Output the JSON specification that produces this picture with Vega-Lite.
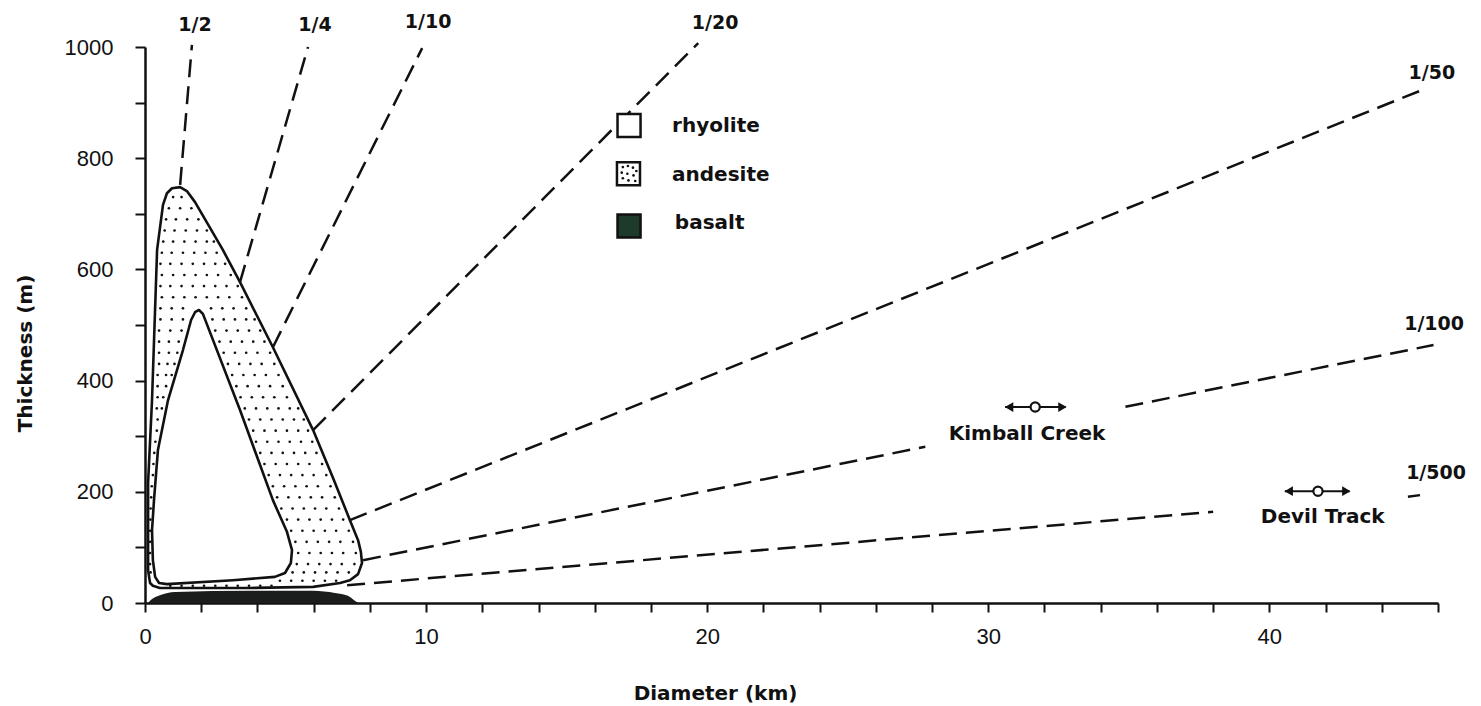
{
  "$schema": "https://vega.github.io/schema/vega-lite/v6.json",
  "width": 1293,
  "height": 556,
  "autosize": {"type": "none"},
  "padding": {"left": 145, "top": 47, "right": 43, "bottom": 103},
  "background": "white",
  "config": {"view": {"stroke": null}},
  "datasets": {
    "andesite": [
      {"i":1,"x":0.28,"y":31},{"i":2,"x":0.18,"y":36},{"i":3,"x":0.11,"y":59},{"i":4,"x":0.11,"y":216},
      {"i":5,"x":0.25,"y":365},{"i":6,"x":0.43,"y":635},{"i":7,"x":0.64,"y":716},{"i":8,"x":0.78,"y":737},
      {"i":9,"x":0.96,"y":746},{"i":10,"x":1.25,"y":748},{"i":11,"x":1.49,"y":741},{"i":12,"x":1.78,"y":721},
      {"i":13,"x":2.77,"y":635},{"i":14,"x":3.38,"y":577},{"i":15,"x":4.55,"y":460},{"i":16,"x":5.98,"y":311},
      {"i":17,"x":6.69,"y":225},{"i":18,"x":7.29,"y":149},{"i":19,"x":7.58,"y":113},{"i":20,"x":7.68,"y":92},
      {"i":21,"x":7.72,"y":72},{"i":22,"x":7.58,"y":52},{"i":23,"x":7.29,"y":41},{"i":24,"x":6.94,"y":36},
      {"i":25,"x":5.98,"y":29},{"i":26,"x":3.74,"y":27},{"i":27,"x":1.25,"y":27},{"i":28,"x":0.53,"y":27}
    ],
    "rhyolite": [
      {"i":1,"x":0.36,"y":47},{"i":2,"x":0.28,"y":77},{"i":3,"x":0.25,"y":131},{"i":4,"x":0.32,"y":185},
      {"i":5,"x":0.46,"y":275},{"i":6,"x":0.82,"y":365},{"i":7,"x":1.35,"y":455},{"i":8,"x":1.64,"y":509},
      {"i":9,"x":1.78,"y":523},{"i":10,"x":1.92,"y":527},{"i":11,"x":2.06,"y":520},{"i":12,"x":3.38,"y":347},
      {"i":13,"x":4.55,"y":185},{"i":14,"x":5.05,"y":128},{"i":15,"x":5.23,"y":95},{"i":16,"x":5.19,"y":72},
      {"i":17,"x":4.98,"y":54},{"i":18,"x":4.62,"y":47},{"i":19,"x":3.13,"y":41},{"i":20,"x":0.78,"y":34},
      {"i":21,"x":0.5,"y":36}
    ],
    "basalt": [
      {"x":0.11,"y":0},{"x":0.25,"y":7},{"x":0.53,"y":14},{"x":1.07,"y":20},{"x":3.74,"y":22},
      {"x":5.98,"y":22},{"x":6.76,"y":18},{"x":7.22,"y":13},{"x":7.44,"y":5},{"x":7.6,"y":0}
    ],
    "dots": [
      {"x":1.0,"y":730},{"x":1.3,"y":730},
      {"x":0.85,"y":710},{"x":1.25,"y":710},{"x":1.65,"y":710},
      {"x":0.75,"y":690},{"x":1.1,"y":690},{"x":1.5,"y":690},{"x":1.9,"y":690},
      {"x":0.7,"y":670},{"x":1.05,"y":670},{"x":1.45,"y":670},{"x":1.85,"y":670},{"x":2.2,"y":670},
      {"x":0.65,"y":650},{"x":1.0,"y":650},{"x":1.4,"y":650},{"x":1.8,"y":650},{"x":2.2,"y":650},{"x":2.45,"y":650},
      {"x":0.6,"y":630},{"x":0.95,"y":630},{"x":1.35,"y":630},{"x":1.75,"y":630},{"x":2.15,"y":630},{"x":2.55,"y":630},
      {"x":0.55,"y":610},{"x":0.9,"y":610},{"x":1.3,"y":610},{"x":1.7,"y":610},{"x":2.1,"y":610},{"x":2.5,"y":610},{"x":2.85,"y":610},
      {"x":0.6,"y":590},{"x":1.0,"y":590},{"x":1.4,"y":590},{"x":1.8,"y":590},{"x":2.2,"y":590},{"x":2.6,"y":590},{"x":3.05,"y":590},
      {"x":0.55,"y":570},{"x":0.9,"y":570},{"x":1.3,"y":570},{"x":1.7,"y":570},{"x":2.1,"y":570},{"x":2.5,"y":570},{"x":2.9,"y":570},{"x":3.3,"y":570},
      {"x":0.6,"y":550},{"x":1.0,"y":550},{"x":1.4,"y":550},{"x":1.8,"y":550},{"x":2.2,"y":550},{"x":2.6,"y":550},{"x":3.0,"y":550},{"x":3.45,"y":550},
      {"x":0.55,"y":530},{"x":0.95,"y":530},{"x":1.35,"y":530},{"x":2.35,"y":530},{"x":2.75,"y":530},{"x":3.15,"y":530},{"x":3.6,"y":530},
      {"x":0.55,"y":510},{"x":0.95,"y":510},{"x":1.35,"y":510},{"x":2.4,"y":510},{"x":2.8,"y":510},{"x":3.2,"y":510},{"x":3.6,"y":510},{"x":3.9,"y":510},
      {"x":0.5,"y":490},{"x":0.9,"y":490},{"x":1.3,"y":490},{"x":2.5,"y":490},{"x":2.9,"y":490},{"x":3.3,"y":490},{"x":3.7,"y":490},{"x":4.1,"y":490},
      {"x":0.5,"y":470},{"x":0.85,"y":470},{"x":1.2,"y":470},{"x":2.65,"y":470},{"x":3.05,"y":470},{"x":3.45,"y":470},{"x":3.85,"y":470},{"x":4.25,"y":470},
      {"x":0.5,"y":450},{"x":0.85,"y":450},{"x":1.15,"y":450},{"x":2.8,"y":450},{"x":3.2,"y":450},{"x":3.6,"y":450},{"x":4.0,"y":450},{"x":4.45,"y":450},
      {"x":0.5,"y":430},{"x":0.8,"y":430},{"x":1.05,"y":430},{"x":2.95,"y":430},{"x":3.35,"y":430},{"x":3.75,"y":430},{"x":4.15,"y":430},{"x":4.6,"y":430},
      {"x":0.45,"y":410},{"x":0.75,"y":410},{"x":0.95,"y":410},{"x":3.1,"y":410},{"x":3.5,"y":410},{"x":3.9,"y":410},{"x":4.3,"y":410},{"x":4.75,"y":410},
      {"x":0.45,"y":390},{"x":0.75,"y":390},{"x":3.25,"y":390},{"x":3.65,"y":390},{"x":4.05,"y":390},{"x":4.45,"y":390},{"x":4.9,"y":390},
      {"x":0.45,"y":370},{"x":0.65,"y":370},{"x":3.4,"y":370},{"x":3.8,"y":370},{"x":4.2,"y":370},{"x":4.6,"y":370},{"x":5.05,"y":370},
      {"x":0.42,"y":350},{"x":0.6,"y":350},{"x":3.55,"y":350},{"x":3.95,"y":350},{"x":4.35,"y":350},{"x":4.75,"y":350},{"x":5.15,"y":350},{"x":5.45,"y":350},
      {"x":0.45,"y":330},{"x":3.7,"y":330},{"x":4.1,"y":330},{"x":4.5,"y":330},{"x":4.9,"y":330},{"x":5.3,"y":330},{"x":5.65,"y":330},
      {"x":0.42,"y":310},{"x":3.85,"y":310},{"x":4.25,"y":310},{"x":4.65,"y":310},{"x":5.05,"y":310},{"x":5.45,"y":310},{"x":5.8,"y":310},
      {"x":0.37,"y":290},{"x":3.95,"y":290},{"x":4.35,"y":290},{"x":4.75,"y":290},{"x":5.15,"y":290},{"x":5.55,"y":290},{"x":5.95,"y":290},
      {"x":0.33,"y":270},{"x":4.1,"y":270},{"x":4.5,"y":270},{"x":4.9,"y":270},{"x":5.3,"y":270},{"x":5.7,"y":270},{"x":6.1,"y":270},
      {"x":0.3,"y":250},{"x":4.25,"y":250},{"x":4.65,"y":250},{"x":5.05,"y":250},{"x":5.45,"y":250},{"x":5.85,"y":250},{"x":6.3,"y":250},
      {"x":0.28,"y":230},{"x":4.4,"y":230},{"x":4.8,"y":230},{"x":5.2,"y":230},{"x":5.6,"y":230},{"x":6.0,"y":230},{"x":6.45,"y":230},
      {"x":0.24,"y":210},{"x":4.55,"y":210},{"x":4.95,"y":210},{"x":5.35,"y":210},{"x":5.75,"y":210},{"x":6.15,"y":210},{"x":6.6,"y":210},
      {"x":0.22,"y":190},{"x":4.7,"y":190},{"x":5.1,"y":190},{"x":5.5,"y":190},{"x":5.9,"y":190},{"x":6.3,"y":190},{"x":6.75,"y":190},
      {"x":0.2,"y":170},{"x":4.85,"y":170},{"x":5.25,"y":170},{"x":5.65,"y":170},{"x":6.05,"y":170},{"x":6.45,"y":170},{"x":6.9,"y":170},
      {"x":0.19,"y":150},{"x":5.05,"y":150},{"x":5.45,"y":150},{"x":5.85,"y":150},{"x":6.25,"y":150},{"x":6.65,"y":150},{"x":7.05,"y":150},
      {"x":0.18,"y":130},{"x":5.2,"y":130},{"x":5.6,"y":130},{"x":6.0,"y":130},{"x":6.4,"y":130},{"x":6.8,"y":130},{"x":7.25,"y":130},
      {"x":0.18,"y":110},{"x":5.35,"y":110},{"x":5.75,"y":110},{"x":6.15,"y":110},{"x":6.55,"y":110},{"x":6.95,"y":110},{"x":7.4,"y":110},
      {"x":0.18,"y":90},{"x":5.45,"y":90},{"x":5.85,"y":90},{"x":6.25,"y":90},{"x":6.65,"y":90},{"x":7.05,"y":90},{"x":7.5,"y":90},
      {"x":0.18,"y":70},{"x":5.4,"y":70},{"x":5.8,"y":70},{"x":6.2,"y":70},{"x":6.6,"y":70},{"x":7.0,"y":70},{"x":7.45,"y":70},
      {"x":0.2,"y":55},{"x":5.25,"y":55},{"x":5.65,"y":55},{"x":6.05,"y":55},{"x":6.45,"y":55},{"x":6.85,"y":55},{"x":7.25,"y":55},
      {"x":4.8,"y":40},{"x":5.2,"y":40},{"x":5.6,"y":40},{"x":6.0,"y":40},{"x":6.4,"y":40},{"x":6.8,"y":40},
      {"x":0.9,"y":31},{"x":1.3,"y":31},{"x":1.7,"y":31},{"x":2.1,"y":31},{"x":2.5,"y":31},{"x":2.9,"y":31},{"x":3.3,"y":31},{"x":3.7,"y":31},{"x":4.1,"y":31},{"x":4.5,"y":31}
    ],
    "ratios": [
      {"seg":"1/2","i":1,"x":1.25,"y":752},{"seg":"1/2","i":2,"x":1.67,"y":1004},
      {"seg":"1/4","i":1,"x":3.38,"y":577},{"seg":"1/4","i":2,"x":5.8,"y":1000},
      {"seg":"1/10","i":1,"x":4.55,"y":460},{"seg":"1/10","i":2,"x":9.86,"y":998},
      {"seg":"1/20","i":1,"x":5.98,"y":311},{"seg":"1/20","i":2,"x":19.68,"y":1007},
      {"seg":"1/50","i":1,"x":7.29,"y":149},{"seg":"1/50","i":2,"x":45.6,"y":926},
      {"seg":"1/100a","i":1,"x":7.76,"y":77},{"seg":"1/100a","i":2,"x":27.76,"y":281},
      {"seg":"1/100b","i":1,"x":34.88,"y":353},{"seg":"1/100b","i":2,"x":45.84,"y":464},
      {"seg":"1/500a","i":1,"x":7.19,"y":32},{"seg":"1/500a","i":2,"x":38.0,"y":164},
      {"seg":"1/500b","i":1,"x":44.93,"y":191},{"seg":"1/500b","i":2,"x":45.36,"y":194}
    ],
    "ratioLabels": [
      {"label":"1/2","x":1.78,"y":1040},{"label":"1/4","x":6.05,"y":1040},{"label":"1/10","x":10.07,"y":1045},
      {"label":"1/20","x":20.28,"y":1043},{"label":"1/50","x":45.78,"y":953},{"label":"1/100","x":45.86,"y":502},
      {"label":"1/500","x":45.93,"y":234}
    ],
    "sites": [
      {"name":"Kimball Creek","cx":31.67,"y":352.5,"xl":30.6,"xr":32.75,"tx":31.38,"ty":304},
      {"name":"Devil Track","cx":41.73,"y":201,"xl":40.55,"xr":42.85,"tx":41.9,"ty":155}
    ],
    "arrowheads": [
      {"x":30.74,"y":352.5,"dir":"L"},{"x":32.64,"y":352.5,"dir":"R"},
      {"x":40.69,"y":201,"dir":"L"},{"x":42.74,"y":201,"dir":"R"}
    ],
    "legend": [
      {"type":"rhyolite","x":17.22,"y":859,"tx":18.75,"ty":858},
      {"type":"andesite","x":17.2,"y":772,"tx":18.75,"ty":770},
      {"type":"basalt","x":17.22,"y":678,"tx":18.85,"ty":683}
    ],
    "legendDots": [
      {"x":17.0,"y":784},{"x":17.18,"y":786},{"x":17.36,"y":783},{"x":17.48,"y":777},{"x":16.96,"y":774},
      {"x":17.16,"y":772},{"x":17.38,"y":769},{"x":17.0,"y":764},{"x":17.2,"y":760},{"x":17.44,"y":759}
    ]
  },
  "encoding": {
    "x": {"type": "quantitative"},
    "y": {"type": "quantitative"}
  },
  "resolve": {"scale": {"x": "shared", "y": "shared"}},
  "layer": [
    {
      "data": {"name": "andesite"},
      "mark": {"type": "line", "interpolate": "linear-closed", "fill": "white", "stroke": "#111", "strokeWidth": 2.6, "strokeJoin": "round"},
      "encoding": {
        "x": {"field": "x", "type": "quantitative", "scale": {"domain": [0, 46], "nice": false, "zero": false},
          "axis": {
            "values": [0,2,4,6,8,10,12,14,16,18,20,22,24,26,28,30,32,34,36,38,40,42,44,46],
            "labelExpr": "datum.value % 10 === 0 ? datum.label : ''",
            "grid": false, "tickSize": 9, "tickWidth": 2, "tickColor": "#111",
            "domainColor": "#111", "domainWidth": 2.5,
            "labelFont": "Liberation Sans", "labelFontSize": 22, "labelColor": "#111", "labelPadding": 14,
            "labelFlush": false, "labelOverlap": false,
            "title": "Diameter (km)", "titleFont": "DejaVu Sans", "titleFontSize": 20, "titleFontWeight": "bold",
            "titleColor": "#111", "titleX": 570, "titleY": 90, "titleBaseline": "middle", "titleAlign": "center", "titleAnchor": null
          }
        },
        "y": {"field": "y", "type": "quantitative", "scale": {"domain": [0, 1000], "nice": false},
          "axis": {
            "values": [0,100,200,300,400,500,600,700,800,900,1000],
            "format": "d",
            "labelExpr": "datum.value % 200 === 0 ? datum.label : ''",
            "grid": false, "tickSize": 10, "tickWidth": 2, "tickColor": "#111",
            "domainColor": "#111", "domainWidth": 2.5,
            "labelFont": "Liberation Sans", "labelFontSize": 22, "labelColor": "#111", "labelPadding": 22,
            "labelFlush": false, "labelOverlap": false,
            "title": "Thickness (m)", "titleFont": "DejaVu Sans", "titleFontSize": 20, "titleFontWeight": "bold",
            "titleColor": "#111", "titleX": -120, "titleY": 306, "titleBaseline": "middle", "titleAlign": "center", "titleAnchor": null
          }
        },
        "order": {"field": "i", "type": "quantitative"}
      }
    },
    {
      "data": {"name": "dots"},
      "mark": {"type": "point", "shape": "circle", "filled": true, "size": 7, "color": "#111", "opacity": 1},
      "encoding": {
        "x": {"field": "x", "type": "quantitative"},
        "y": {"field": "y", "type": "quantitative"}
      }
    },
    {
      "data": {"name": "rhyolite"},
      "mark": {"type": "line", "interpolate": "linear-closed", "fill": "white", "stroke": "#111", "strokeWidth": 2.6, "strokeJoin": "round"},
      "encoding": {
        "x": {"field": "x", "type": "quantitative"},
        "y": {"field": "y", "type": "quantitative"},
        "order": {"field": "i", "type": "quantitative"}
      }
    },
    {
      "data": {"name": "basalt"},
      "mark": {"type": "area", "color": "#1b1d1c", "interpolate": "monotone"},
      "encoding": {
        "x": {"field": "x", "type": "quantitative"},
        "y": {"field": "y", "type": "quantitative"},
        "y2": {"datum": 0}
      }
    },
    {
      "data": {"name": "ratios"},
      "mark": {"type": "line", "stroke": "#111", "strokeWidth": 2.5, "strokeDash": [18, 9]},
      "encoding": {
        "x": {"field": "x", "type": "quantitative"},
        "y": {"field": "y", "type": "quantitative"},
        "detail": {"field": "seg", "type": "nominal"},
        "order": {"field": "i", "type": "quantitative"}
      }
    },
    {
      "data": {"name": "ratioLabels"},
      "mark": {"type": "text", "font": "DejaVu Sans", "fontSize": 19, "fontWeight": "bold", "color": "#111", "align": "center", "baseline": "middle"},
      "encoding": {
        "x": {"field": "x", "type": "quantitative"},
        "y": {"field": "y", "type": "quantitative"},
        "text": {"field": "label"}
      }
    },
    {
      "data": {"name": "sites"},
      "mark": {"type": "rule", "stroke": "#111", "strokeWidth": 2},
      "encoding": {
        "x": {"field": "xl", "type": "quantitative"},
        "x2": {"field": "xr"},
        "y": {"field": "y", "type": "quantitative"}
      }
    },
    {
      "data": {"name": "arrowheads"},
      "mark": {"type": "point", "filled": true, "size": 95, "color": "#111", "opacity": 1},
      "encoding": {
        "x": {"field": "x", "type": "quantitative"},
        "y": {"field": "y", "type": "quantitative"},
        "shape": {"field": "dir", "type": "nominal", "scale": {"domain": ["L", "R"], "range": ["triangle-left", "triangle-right"]}, "legend": null}
      }
    },
    {
      "data": {"name": "sites"},
      "mark": {"type": "point", "shape": "circle", "filled": true, "fill": "white", "stroke": "#111", "strokeWidth": 2.2, "size": 85, "opacity": 1},
      "encoding": {
        "x": {"field": "cx", "type": "quantitative"},
        "y": {"field": "y", "type": "quantitative"}
      }
    },
    {
      "data": {"name": "sites"},
      "mark": {"type": "text", "font": "DejaVu Sans", "fontSize": 20, "fontWeight": "bold", "color": "#111", "align": "center", "baseline": "middle"},
      "encoding": {
        "x": {"field": "tx", "type": "quantitative"},
        "y": {"field": "ty", "type": "quantitative"},
        "text": {"field": "name"}
      }
    },
    {
      "data": {"name": "legend"},
      "mark": {"type": "point", "shape": "square", "filled": true, "stroke": "#111", "strokeWidth": 2.5, "size": 530, "opacity": 1},
      "encoding": {
        "x": {"field": "x", "type": "quantitative"},
        "y": {"field": "y", "type": "quantitative"},
        "fill": {"field": "type", "type": "nominal", "scale": {"domain": ["rhyolite", "andesite", "basalt"], "range": ["#ffffff", "#ffffff", "#1e3a2b"]}, "legend": null}
      }
    },
    {
      "data": {"name": "legendDots"},
      "mark": {"type": "point", "shape": "circle", "filled": true, "size": 7, "color": "#111", "opacity": 1},
      "encoding": {
        "x": {"field": "x", "type": "quantitative"},
        "y": {"field": "y", "type": "quantitative"}
      }
    },
    {
      "data": {"name": "legend"},
      "mark": {"type": "text", "font": "DejaVu Sans", "fontSize": 20, "fontWeight": "bold", "color": "#111", "align": "left", "baseline": "middle"},
      "encoding": {
        "x": {"field": "tx", "type": "quantitative"},
        "y": {"field": "ty", "type": "quantitative"},
        "text": {"field": "type"}
      }
    }
  ]
}
